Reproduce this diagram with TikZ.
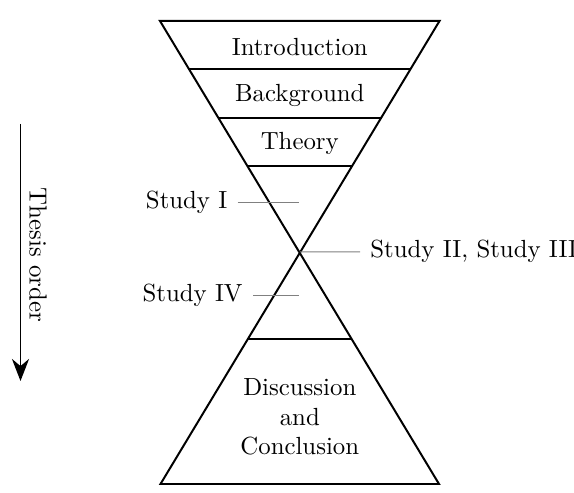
\documentclass[tikz,border=0pt]{standalone}
\usetikzlibrary{calc,arrows.meta}
\begin{document}
\begin{tikzpicture}[x=0.4032pt,y=-0.4032pt,
  glass/.style={line width=0.8pt,line join=miter},
  leader/.style={draw=gray,line width=0.4pt},
  lbl/.style={inner xsep=4pt,inner ysep=0pt},
  sect/.style={inner sep=0pt,align=center}]
\useasboundingbox (0,0) rectangle (574,493);
% hourglass corners
\coordinate (TL) at (160,21);
\coordinate (TR) at (439.5,21);
\coordinate (X) at (299.8,252);
\coordinate (BL) at (160.5,484);
\coordinate (BR) at (439,484);
\draw[glass] (TL) -- (TR) -- (BL) -- (BR) -- cycle;
% section dividers
\foreach \f/\n in {0.2078/a,0.4199/b,0.6277/c}{
  \draw[glass] ($(TL)!\f!(X)$) -- ($(TR)!\f!(X)$);
}
\draw[glass] ($(X)!0.375!(BL)$) -- ($(X)!0.375!(BR)$);
% section texts
\node[sect] (intro) at (299.8,47.1) {Introduction};
\node[sect] (back) at (299.8,95.5) {Background};
\node[sect] (theo) at (299.8,143.8) {Theory};
\node[sect] (disc) at (299.8,417) {Discussion\\and\\Conclusion};
% study labels
\node[lbl,anchor=east] (s1) at (237.7,202.4) {Study I};
\coordinate (s1e) at (299.3,202.4);
\draw[leader] (s1) -- (s1e);
\node[lbl,anchor=west] (s2) at (360,251.8) {Study II, Study III};
\draw[leader] (X) -- (s2);
\node[lbl,anchor=east] (s4) at (253,295.4) {Study IV};
\coordinate (s4e) at (299.3,295.4);
\draw[leader] (s4) -- (s4e);
% thesis order arrow
\coordinate (a0) at (20.5,124);
\coordinate (a1) at (20.5,381);
\draw[line width=0.8pt,-{Stealth[length=8.9pt,width=6.9pt]}] (a0) -- (a1);
\node[rotate=-90,inner sep=0pt] (order) at (38,255) {Thesis order};
\end{tikzpicture}
\end{document}
